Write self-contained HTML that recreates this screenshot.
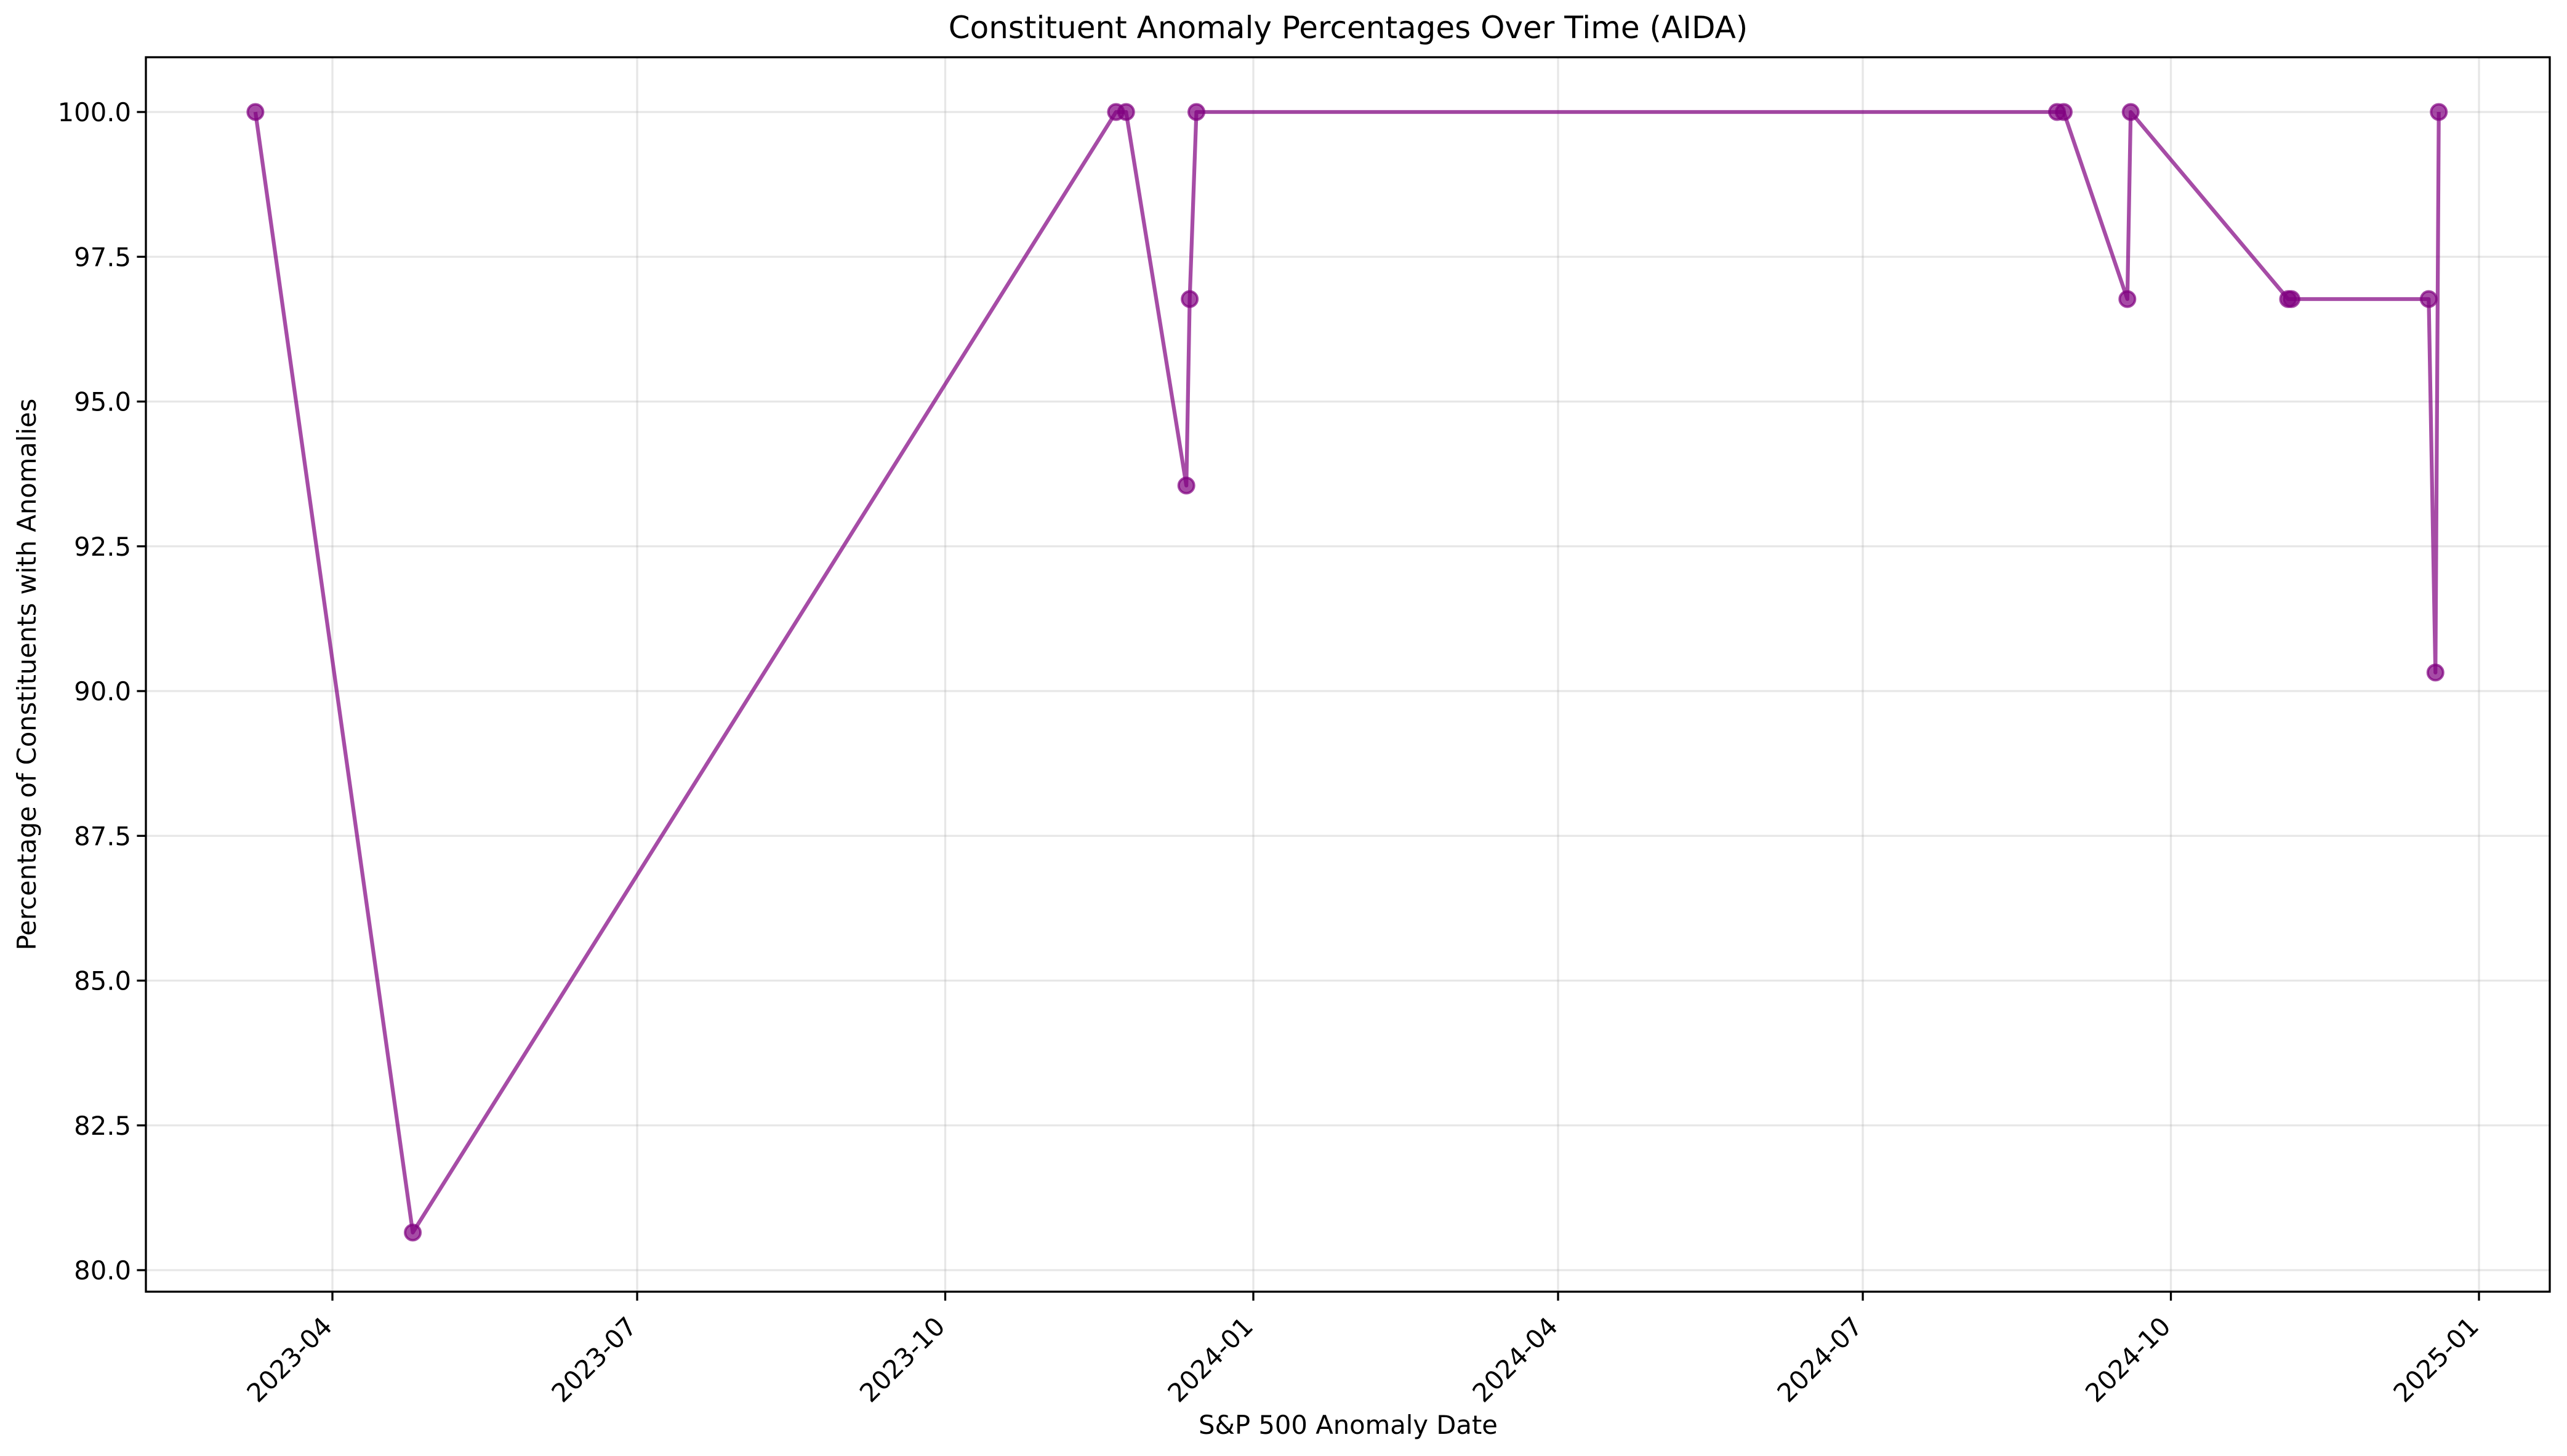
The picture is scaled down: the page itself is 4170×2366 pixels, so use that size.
<!DOCTYPE html>
<html><head><meta charset="utf-8"><style>html,body{margin:0;padding:0;background:#fff}svg{display:block}text{font-family:"DejaVu Sans","Liberation Sans",sans-serif}</style></head>
<body>
<svg id="chart" width="4170" height="2366" viewBox="0 0 4170 2366" xmlns="http://www.w3.org/2000/svg">
<rect width="4170" height="2366" fill="#fff"/>
<text x="2190" y="62" font-size="50" text-anchor="middle">Constituent Anomaly Percentages Over Time (AIDA)</text>
<text x="2190" y="2330" font-size="41.7" text-anchor="middle">S&amp;P 500 Anomaly Date</text>
<text x="0" y="0" font-size="41.7" text-anchor="middle" transform="translate(58,1096) rotate(-90)">Percentage of Constituents with Anomalies</text>
<g id="grid"></g><g id="series"></g><g id="axes"></g>
</svg>
<script>
const dates = ["2023-03-09","2023-04-25","2023-11-21","2023-11-24","2023-12-12","2023-12-13","2023-12-15","2024-08-28","2024-08-30","2024-09-18","2024-09-19","2024-11-05","2024-11-06","2024-12-17","2024-12-19","2024-12-20"];
const values = [100,80.65,100,100,93.55,96.77,100,100,100,96.77,100,96.77,96.77,96.77,90.32,100];
const yTicks = [80,82.5,85,87.5,90,92.5,95,97.5,100];
const xTicks = ["2023-04","2023-07","2023-10","2024-01","2024-04","2024-07","2024-10","2025-01"];

const NS="http://www.w3.org/2000/svg";
const L=237,R=4142,T=93,B=2099;
const d0=Date.UTC(2023,3,1), d1=Date.UTC(2025,0,1);
function xs(s){const p=s.split('-');const t=Date.UTC(+p[0],+p[1]-1,p[2]?+p[2]:1);return 540+(t-d0)/(d1-d0)*(4027-540);}
function ys(v){return 182+(100-v)*94.1;}
function mk(tag,attrs,parent){const e=document.createElementNS(NS,tag);for(const k in attrs)e.setAttribute(k,attrs[k]);document.getElementById(parent).appendChild(e);return e;}
yTicks.forEach(v=>{const y=ys(v);
 const g=mk('line',{x1:L,x2:R,y1:y,y2:y,stroke:'#b0b0b0','stroke-opacity':0.3,'stroke-width':3.3},'grid');
 
 
 const t=mk('line',{x1:L-14.6,x2:L,y1:y,y2:y,stroke:'#000','stroke-width':3.3},'axes');
 
 
 const tx=mk('text',{x:L-24,y:y+15,'font-size':41.7,'text-anchor':'end'},'axes');tx.textContent=v.toFixed(1);
 
 
});
xTicks.forEach(s=>{const x=xs(s);
 const g=mk('line',{x1:x,x2:x,y1:T,y2:B,stroke:'#b0b0b0','stroke-opacity':0.3,'stroke-width':3.3},'grid');
 
 
 const t=mk('line',{x1:x,x2:x,y1:B,y2:B+14.6,stroke:'#000','stroke-width':3.3},'axes');
 
 
 const ax=x+2,ay=2158;
 const tx=mk('text',{x:ax,y:ay,'font-size':41.7,'text-anchor':'end',transform:`rotate(-45 ${ax} ${ay})`},'axes');tx.textContent=s;
 
 
});
const fr=mk('rect',{x:L,y:T,width:R-L,height:B-T,fill:'none',stroke:'#000','stroke-width':3.3},'axes');


const pts=dates.map((d,i)=>xs(d)+','+ys(values[i])).join(' ');
const pl=mk('polyline',{points:pts,fill:'none',stroke:'purple','stroke-opacity':0.7,'stroke-width':6.25,'stroke-linejoin':'round'},'series');


dates.forEach((d,i)=>{
 const c=mk('circle',{cx:xs(d),cy:ys(values[i]),r:12.5,fill:'purple','fill-opacity':0.7,stroke:'purple','stroke-opacity':0.7,'stroke-width':4},'series');
 
 
});
</script>
</body></html>
